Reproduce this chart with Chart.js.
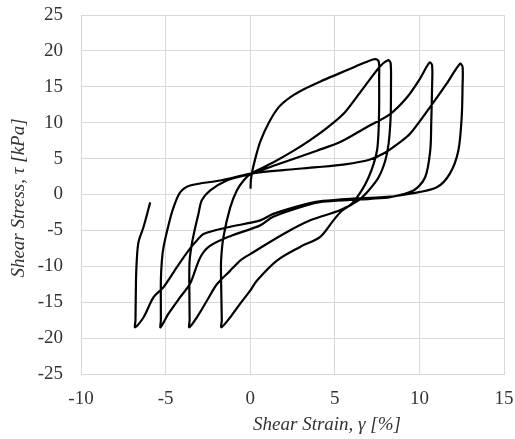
<!DOCTYPE html>
<html>
<head>
<meta charset="utf-8">
<script src="https://cdn.jsdelivr.net/npm/chart.js@4/dist/chart.umd.min.js"></script>
<style>
  html, body { margin: 0; padding: 0; background: #fff; }
  #chart { display: block; }
</style>
</head>
<body>
<canvas id="chart" width="515" height="439"></canvas>
<script>
// axis setup
var xTicks = [-10, -5, 0, 5, 10, 15];
var yTicks = [-25, -20, -15, -10, -5, 0, 5, 10, 15, 20, 25];
var xTitle = "Shear Strain, \u03b3 [%]";
var yTitle = "Shear Stress, \u03c4 [kPa]";

// branches of the loop (strain %, stress kPa)
var up1Strain = [0.02, 0.04, 0.12, 0.3, 0.6, 1.1, 1.7, 2.4, 3.2, 4.2, 5.2, 6.2, 7.0, 7.4];
var up1Stress = [0.8, 2.0, 3.2, 5.0, 7.4, 10.0, 12.2, 13.6, 14.7, 15.8, 16.8, 17.8, 18.6, 18.85];

var down1Strain = [7.6, 7.62, 7.62, 7.58, 7.5, 7.3, 7.0, 6.6, 6.0, 5.4, 4.92, 4.14, 2.95, 1.58, 0.39, 0, -0.59, -1.18, -1.7];
var down1Stress = [18.5, 16, 12, 8.5, 6.2, 4.3, 2.4, 0.6, -1.3, -2.3, -3.6, -5.9, -7.3, -9.2, -12, -13.4, -15.2, -17.1, -18.5];

var up2Strain = [-1.68, -1.72, -1.72, -1.58, -1.18, -0.79, -0.39, 0.05, 1.38, 2.5, 3.5, 4.5, 5.5, 6.3, 7.0, 7.7, 8.15];
var up2Stress = [-17.5, -12, -9.2, -5.9, -1.8, 0.56, 1.95, 2.9, 4.5, 6.0, 7.5, 9.2, 11.2, 13.6, 15.8, 17.9, 18.7];

var down2Strain = [8.3, 8.32, 8.3, 8.18, 7.98, 7.59, 7.0, 6.4, 5.3, 3.55, 1.97, 0, -0.59, -1.18, -1.97, -2.56, -3.15, -3.6];
var down2Stress = [18.3, 15, 10.8, 7.1, 4.7, 2.4, 0.56, -0.8, -2.2, -3.6, -5.5, -8.3, -9.2, -10.6, -12.5, -14.8, -17.1, -18.5];

var up3Strain = [-3.58, -3.6, -3.58, -3.45, -3.25, -3.05, -2.86, -2.36, -1.38, 0.05, 1.38, 2.5, 3.94, 5.32, 6.9, 8.27, 9.26, 10.0, 10.6];
var up3Stress = [-17.5, -12, -9.2, -6.9, -4.6, -2.6, -0.8, 0.56, 1.95, 2.9, 4.0, 4.9, 6.1, 7.3, 9.4, 11.2, 13.5, 16.0, 18.4];

var down3Strain = [10.75, 10.75, 10.7, 10.64, 10.34, 9.65, 8.27, 7.09, 5.9, 4.3, 3.35, 1.36, 0.59, -1.18, -2.4, -2.96, -3.55, -4.14, -4.83, -5.3];
var down3Stress = [18.0, 15, 10, 6.1, 2.4, 0.56, -0.37, -0.6, -0.75, -1.0, -1.5, -3.1, -4.3, -5.8, -7.2, -8.8, -12.4, -14.3, -16.6, -18.5];

var up4Strain = [-5.28, -5.28, -5.22, -5.12, -4.8, -4.53, -4.14, -3.55, -1.77, 0.05, 1.97, 3.94, 5.6, 7.0, 7.88, 8.8, 9.46, 10.64, 11.6, 12.4];
var up4Stress = [-17.5, -12, -9.2, -7.3, -4.0, -1.8, 0.3, 1.25, 1.95, 2.9, 3.4, 3.8, 4.2, 4.8, 5.7, 7.2, 8.5, 12.2, 15.4, 18.2];

var down4Strain = [12.55, 12.55, 12.5, 12.3, 11.8, 11.03, 9.46, 7.88, 5.9, 4.3, 3.35, 1.36, 0.59, -1.38, -2.76, -3.15, -3.55, -4.33, -5.12, -5.71, -6.3, -6.8];
var down4Stress = [17.8, 15, 10.8, 6.1, 2.9, 1.0, 0.1, -0.37, -0.6, -0.9, -1.3, -2.7, -3.6, -4.6, -5.5, -6.4, -7.5, -10.1, -12.9, -14.3, -17.1, -18.5];

var up5Strain = [-6.78, -6.75, -6.7, -6.6, -6.3, -5.91];
var up5Stress = [-17.5, -12, -9, -6.6, -4.5, -1.1];

var branches = [
  [up1Strain, up1Stress], [down1Strain, down1Stress],
  [up2Strain, up2Stress], [down2Strain, down2Stress],
  [up3Strain, up3Stress], [down3Strain, down3Stress],
  [up4Strain, up4Stress], [down4Strain, down4Stress],
  [up5Strain, up5Stress]
];

var points = [];
branches.forEach(function(b) {
  for (var i = 0; i < b[0].length; i++) {
    points.push({ x: b[0][i], y: b[1][i] });
  }
});

var textColor = "#333333";
var gridColor = "#d9d9d9";
Chart.defaults.font.family = "'Liberation Serif', 'Times New Roman', serif";

// stop the scales from pushing the plot area in for label overhang
function noPad(scale) {
  scale.paddingTop = 0;
  scale.paddingBottom = 0;
  scale.paddingLeft = 0;
  scale.paddingRight = 0;
}

var axisTitles = {
  id: "axisTitles",
  afterDraw: function(chart) {
    var ctx = chart.ctx;
    ctx.save();
    ctx.fillStyle = textColor;
    ctx.font = "italic 19px 'Liberation Serif', serif";
    ctx.textAlign = "center";
    ctx.textBaseline = "middle";
    ctx.fillText(xTitle, 327, 425);
    ctx.translate(19, 198);
    ctx.rotate(-Math.PI / 2);
    ctx.fillText(yTitle, 0, 0);
    ctx.restore();
  }
};

new Chart(document.getElementById("chart"), {
  type: "scatter",
  data: {
    datasets: [{
      data: points,
      showLine: true,
      borderColor: "#000",
      borderWidth: 2.2,
      pointRadius: 0,
      tension: 0.3,
      fill: false
    }]
  },
  options: {
    responsive: false,
    animation: false,
    devicePixelRatio: 1,
    layout: { padding: { left: 0, right: 11, top: 15, bottom: 0 } },
    plugins: { legend: { display: false }, tooltip: { enabled: false } },
    scales: {
      x: {
        type: "linear",
        min: xTicks[0],
        max: xTicks[xTicks.length - 1],
        afterBuildTicks: function(scale) { scale.ticks = xTicks.map(function(v) { return { value: v }; }); },
        afterFit: function(scale) { scale.height = 65; noPad(scale); },
        grid: { color: gridColor, lineWidth: 1, drawTicks: false },
        border: { color: gridColor },
        ticks: { color: textColor, font: { size: 19 }, padding: 14, maxRotation: 0 }
      },
      y: {
        type: "linear",
        min: yTicks[0],
        max: yTicks[yTicks.length - 1],
        afterBuildTicks: function(scale) { scale.ticks = yTicks.map(function(v) { return { value: v }; }); },
        afterFit: function(scale) { scale.width = 81; noPad(scale); },
        grid: { color: gridColor, lineWidth: 1, drawTicks: false },
        border: { color: gridColor },
        ticks: { color: textColor, font: { size: 19 }, padding: 18 }
      }
    }
  },
  plugins: [axisTitles]
});
</script>
</body>
</html>
